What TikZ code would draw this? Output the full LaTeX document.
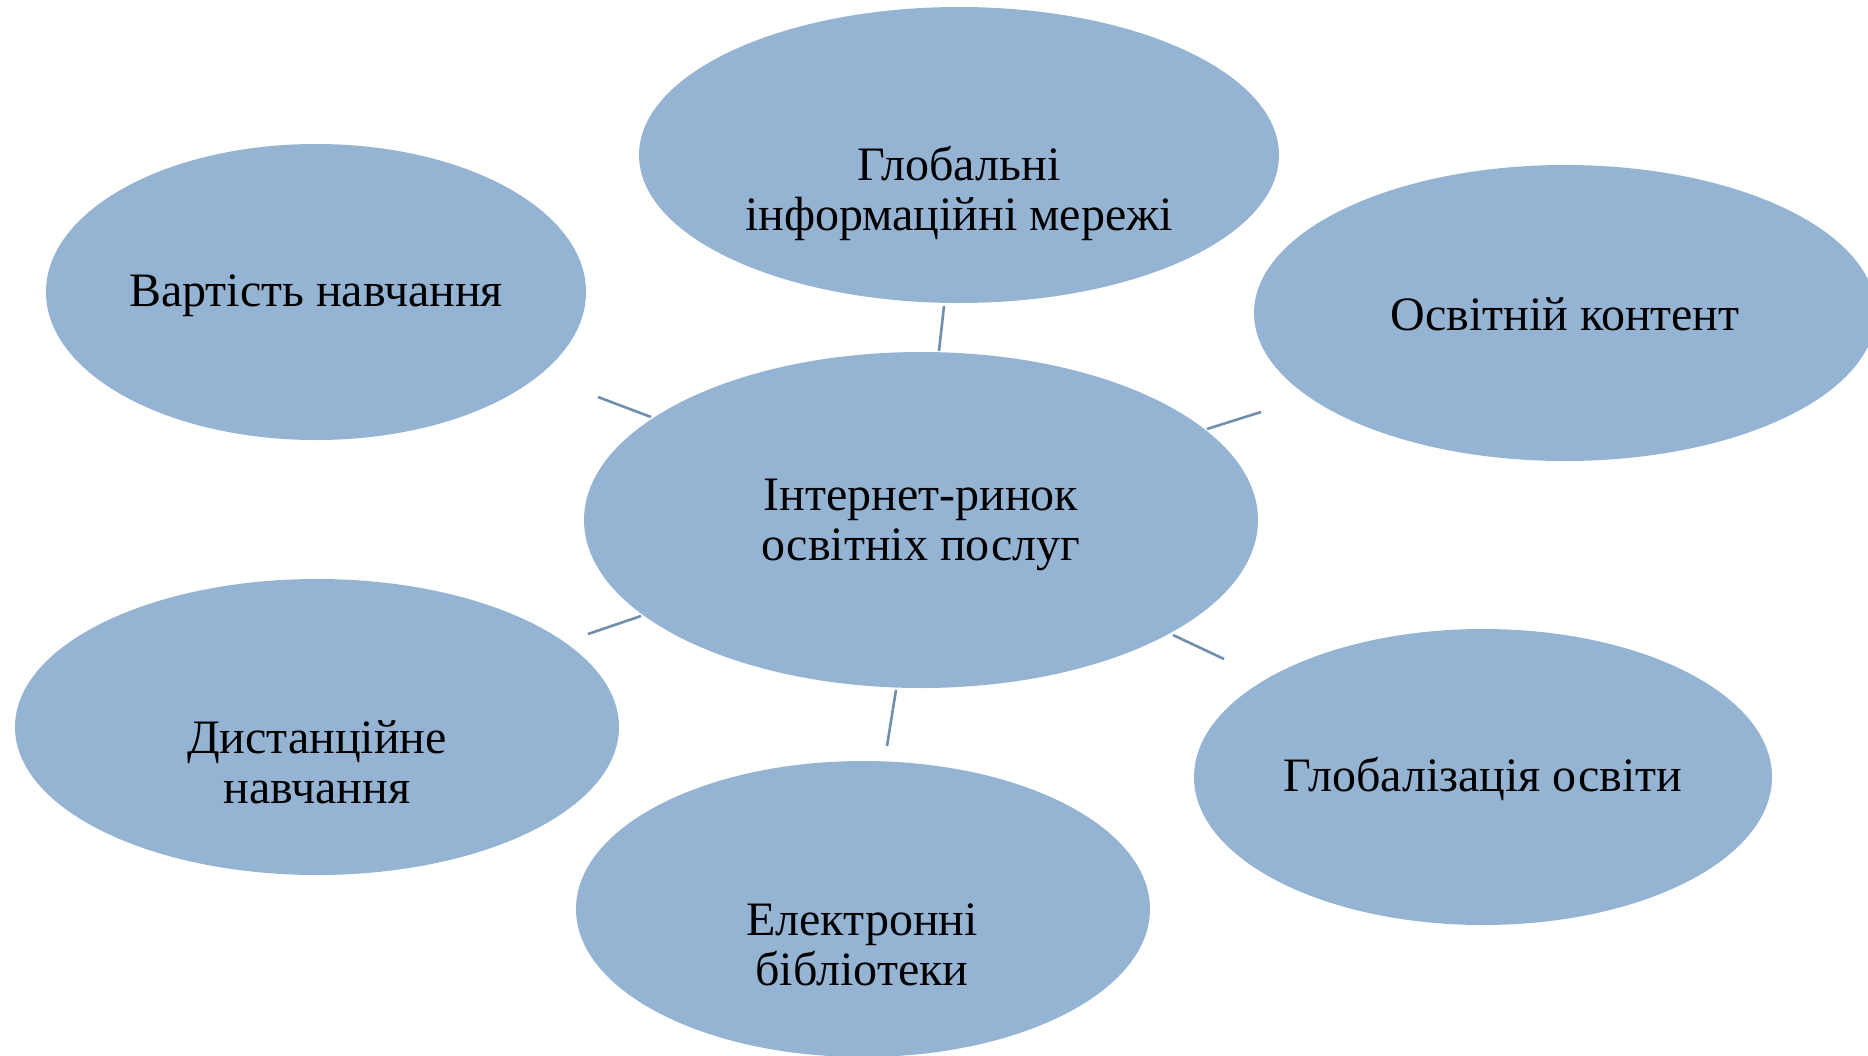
\documentclass[tikz,border=0pt]{standalone}
\usepackage{fontspec}
\setmainfont{Liberation Serif}
\usetikzlibrary{shapes.geometric}
\definecolor{bubble}{RGB}{149,180,211}
\definecolor{spoke}{RGB}{112,143,173}
\begin{document}
\begin{tikzpicture}[x=1pt,y=-1pt,
  bubble/.style={ellipse, fill=bubble, draw=none, inner sep=0pt},
  label/.style={align=center, inner sep=0pt, font=\fontsize{48}{50}\selectfont},
  spoke/.style={draw=spoke, line width=2.6pt}]
\useasboundingbox (0,0) rectangle (1868,1055);

% outer bubbles
\node[bubble, minimum width=640pt, minimum height=296pt] (glob)  at (959,155) {};
\node[bubble, minimum width=540pt, minimum height=296pt] (cost)  at (316,292) {};
\node[bubble, minimum width=622pt, minimum height=296pt] (cont)  at (1565,313) {};
\node[bubble, minimum width=604pt, minimum height=296pt] (dist)  at (317,727) {};
\node[bubble, minimum width=574pt, minimum height=296pt] (lib)   at (863,909) {};
\node[bubble, minimum width=578pt, minimum height=296pt] (glz)   at (1483,777) {};
% central bubble
\node[bubble, minimum width=674pt, minimum height=336pt] (hub)   at (921,520) {};

% captions
\node[label] (tglob) at (959,193) {Глобальні\\інформаційні мережі};
\node[label] (tcost) at (316,296) {Вартість навчання};
\node[label] (tcont) at (1565,314) {Освітній контент};
\node[label] (thub)  at (921,525) {Інтернет-ринок\\освітніх послуг};
\node[label] (tdist) at (317,762) {Дистанційне\\навчання};
\node[label] (tlib)  at (862,945) {Електронні\\бібліотеки};
\node[label] (tglz)  at (1483,779) {Глобалізація освіти};

% spoke end points
\coordinate (s1a) at (939,351);  \coordinate (s1b) at (944,306);
\coordinate (s2a) at (651,417);  \coordinate (s2b) at (598,397);
\coordinate (s3a) at (1207,429); \coordinate (s3b) at (1261,412);
\coordinate (s4a) at (641,616);  \coordinate (s4b) at (588,634);
\coordinate (s5a) at (1173,635); \coordinate (s5b) at (1224,659);
\coordinate (s6a) at (896,690);  \coordinate (s6b) at (887,746);

\draw[spoke] (s1a) -- (s1b);
\draw[spoke] (s2a) -- (s2b);
\draw[spoke] (s3a) -- (s3b);
\draw[spoke] (s4a) -- (s4b);
\draw[spoke] (s5a) -- (s5b);
\draw[spoke] (s6a) -- (s6b);
\end{tikzpicture}
\end{document}
